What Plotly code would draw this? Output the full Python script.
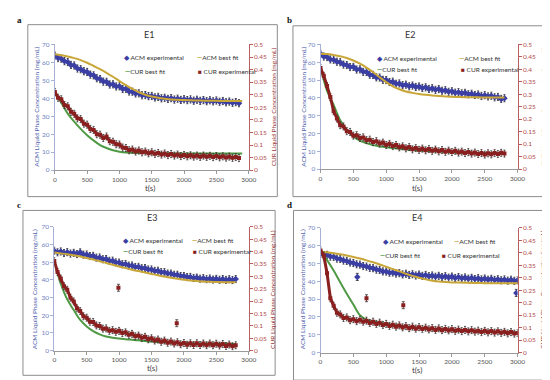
import plotly.graph_objects as go

# ---------------- data ----------------
EXP_STEP = 50   # s between experimental points
FIT_STEP = 100  # s between best-fit points

panel_titles = ["E1", "E2", "E3", "E4"]
panel_letters = ["a", "b", "c", "d"]
x_ticks = [0, 500, 1000, 1500, 2000, 2500, 3000]
acm_ticks = [0, 10, 20, 30, 40, 50, 60, 70]
cur_ticks = [0, 0.05, 0.1, 0.15, 0.2, 0.25, 0.3, 0.35, 0.4, 0.45, 0.5]
cur_tick_labels = ["0", "0.05", "0.1", "0.15", "0.2", "0.25", "0.3", "0.35", "0.4", "0.45", "0.5"]
acm_axis_title = "ACM Liquid Phase Concentration (mg/mL)"
cur_axis_title = "CUR Liquid Phase Concentration (mg/mL)"
x_axis_title = "t(s)"

# ACM (mg/mL, left axis)
e1_acm_exp = [63.8, 62.4, 62.1, 60.7, 60.2, 58.6, 58.3, 56.6, 56.2, 55.1,
              54.7, 53.2, 52.8, 51.2, 50.7, 49.3, 49.2, 47.7, 47.8, 46.6,
              46.7, 45.2, 45.3, 43.8, 43.7, 42.7, 42.8, 41.7, 41.8, 41.2,
              41.3, 40.5, 40.8, 40.0, 40.3, 39.7, 40.1, 39.3, 39.8, 39.1,
              39.5, 39.0, 39.4, 38.7, 39.2, 38.6, 39.0, 38.4, 38.9, 38.3,
              38.8, 38.1, 38.5, 37.8, 38.2, 37.5, 37.9, 37.3]
e1_acm_fit = [64.5, 64.0, 63.3, 62.4, 61.3, 59.8, 58.0, 56.2, 54.2, 52.0,
              49.6, 47.3, 45.2, 43.4, 42.0, 41.0, 40.3, 39.8, 39.4, 39.2,
              39.0, 38.9, 38.8, 38.7, 38.6, 38.6, 38.5, 38.5, 38.5, 38.5]
e2_acm_exp = [64.8, 63.2, 62.9, 61.6, 61.4, 60.3, 60.0, 58.7, 58.4, 57.3,
              57.4, 55.9, 56.0, 54.6, 54.5, 53.0, 52.9, 51.5, 51.4, 50.1,
              50.0, 48.9, 49.1, 47.9, 48.1, 47.1, 47.4, 46.5, 46.9, 46.1,
              46.4, 45.6, 45.9, 45.0, 45.4, 44.5, 44.9, 44.0, 44.3, 43.4,
              43.7, 42.9, 43.2, 42.5, 42.8, 42.0, 42.3, 41.6, 41.9, 41.1,
              41.5, 40.8, 41.2, 40.3, 40.5, 39.4, 39.8]
e2_acm_fit = [64.8, 64.6, 64.1, 63.4, 62.4, 61.0, 59.2, 57.0, 54.4, 51.6,
              48.8, 46.5, 44.8, 43.6, 42.8, 42.2, 41.7, 41.3, 41.0, 40.8,
              40.6, 40.5, 40.4, 40.3, 40.3, 40.2, 40.2, 40.2, 40.2]
e3_acm_exp = [56.5, 55.6, 56.1, 55.2, 55.7, 54.9, 55.3, 54.6, 55.6, 54.3,
              54.4, 53.5, 53.6, 52.6, 52.7, 51.7, 51.8, 50.8, 50.9, 49.9,
              49.8, 48.9, 49.0, 48.1, 48.2, 47.3, 47.4, 46.6, 46.7, 45.9,
              45.9, 45.1, 45.2, 44.4, 44.4, 43.6, 43.6, 42.9, 42.9, 42.2,
              42.2, 41.6, 41.7, 41.1, 41.3, 40.7, 41.0, 40.4, 40.8, 40.2,
              40.6, 40.1, 40.5, 40.0, 40.4, 39.9, 40.5]
e3_acm_fit = [55.5, 55.0, 54.5, 53.9, 53.2, 52.4, 51.5, 50.6, 49.6, 48.6,
              47.6, 46.7, 45.8, 45.0, 44.2, 43.4, 42.6, 41.9, 41.2, 40.6,
              40.1, 39.7, 39.4, 39.1, 38.9, 38.8, 38.7, 38.7, 38.7]
e4_acm_exp = [55.6, 54.8, 54.9, 53.9, 53.8, 52.8, 52.6, 51.7, 51.5, 50.6,
              50.3, 49.6, 49.4, 48.6, 48.3, 47.6, 47.4, 46.6, 46.4, 45.6,
              45.5, 44.9, 45.0, 44.4, 44.6, 43.9, 44.3, 43.6, 44.0, 43.3,
              43.8, 43.1, 43.6, 42.9, 43.3, 42.6, 43.1, 42.4, 42.9, 42.1,
              42.7, 41.9, 42.4, 41.7, 42.2, 41.5, 42.0, 41.3, 41.8, 41.1,
              41.6, 40.9, 41.4, 40.8, 41.2, 40.6, 41.1, 40.4, 40.9, 40.3, 40.6]
e4_acm_fit = [56.7, 56.3, 55.8, 55.2, 54.5, 53.7, 52.8, 51.8, 50.7, 49.5,
              48.2, 46.9, 45.6, 44.3, 43.1, 42.0, 41.1, 40.4, 39.9, 39.6,
              39.4, 39.3, 39.2, 39.1, 39.1, 39.0, 39.0, 39.0, 39.0, 39.0, 39.0]
e4_acm_out_t = [560, 2980]
e4_acm_out = [42.5, 33.5]

# CUR (mg/mL, right axis)
e1_cur_exp = [0.311, 0.288, 0.282, 0.259, 0.254, 0.232, 0.224, 0.206, 0.203, 0.185,
              0.181, 0.164, 0.160, 0.143, 0.141, 0.128, 0.134, 0.115, 0.113, 0.103,
              0.102, 0.090, 0.088, 0.079, 0.082, 0.074, 0.078, 0.071, 0.074, 0.067,
              0.071, 0.065, 0.068, 0.062, 0.066, 0.060, 0.064, 0.058, 0.062, 0.056,
              0.060, 0.055, 0.059, 0.054, 0.058, 0.053, 0.058, 0.053, 0.057, 0.052,
              0.056, 0.051, 0.055, 0.050, 0.054, 0.049, 0.052, 0.048]
e1_cur_fit = [0.311, 0.268, 0.225, 0.193, 0.164, 0.139, 0.118, 0.100, 0.088, 0.079,
              0.073, 0.070, 0.069, 0.068, 0.068, 0.067, 0.067, 0.067, 0.067, 0.066,
              0.066, 0.066, 0.066, 0.066, 0.066, 0.066, 0.066, 0.066, 0.066, 0.066]
e2_cur_exp = [0.405, 0.374, 0.333, 0.289, 0.232, 0.203, 0.176, 0.171, 0.152, 0.149,
              0.134, 0.136, 0.125, 0.127, 0.116, 0.118, 0.108, 0.112, 0.102, 0.106,
              0.096, 0.101, 0.092, 0.096, 0.087, 0.091, 0.083, 0.088, 0.079, 0.084,
              0.077, 0.082, 0.075, 0.080, 0.073, 0.078, 0.071, 0.076, 0.069, 0.074,
              0.068, 0.073, 0.066, 0.070, 0.064, 0.068, 0.062, 0.066, 0.060, 0.064,
              0.058, 0.063, 0.059, 0.064, 0.060, 0.065, 0.062]
e2_cur_fit = [0.407, 0.314, 0.257, 0.196, 0.157, 0.131, 0.114, 0.104, 0.096, 0.091,
              0.087, 0.084, 0.081, 0.079, 0.076, 0.074, 0.073, 0.071, 0.070, 0.069,
              0.067, 0.066, 0.066, 0.065, 0.064, 0.064, 0.063, 0.063, 0.063]
e3_cur_exp = [0.362, 0.318, 0.291, 0.260, 0.246, 0.214, 0.199, 0.171, 0.160, 0.139,
              0.133, 0.117, 0.116, 0.102, 0.100, 0.089, 0.090, 0.080, 0.083, 0.076,
              0.080, 0.071, 0.074, 0.064, 0.068, 0.058, 0.061, 0.052, 0.056, 0.046,
              0.050, 0.041, 0.045, 0.036, 0.041, 0.032, 0.037, 0.029, 0.034, 0.026,
              0.031, 0.024, 0.030, 0.023, 0.030, 0.023, 0.029, 0.022, 0.029, 0.022,
              0.028, 0.021, 0.027, 0.019, 0.025, 0.018, 0.022]
e3_cur_fit = [0.357, 0.271, 0.207, 0.164, 0.124, 0.098, 0.079, 0.066, 0.057, 0.052,
              0.049, 0.046, 0.044, 0.042, 0.039, 0.037, 0.035, 0.034, 0.033, 0.032,
              0.031, 0.030, 0.030, 0.029, 0.029, 0.028, 0.028, 0.027, 0.027]
e3_cur_out_t = [990, 1890]
e3_cur_out = [0.254, 0.111]
e4_cur_exp = [0.410, 0.389, 0.318, 0.218, 0.188, 0.160, 0.153, 0.139, 0.141, 0.130,
              0.134, 0.126, 0.132, 0.124, 0.128, 0.119, 0.124, 0.115, 0.120, 0.111,
              0.115, 0.107, 0.112, 0.104, 0.109, 0.101, 0.106, 0.098, 0.104, 0.096,
              0.102, 0.095, 0.100, 0.093, 0.098, 0.091, 0.097, 0.090, 0.095, 0.089,
              0.094, 0.087, 0.092, 0.086, 0.091, 0.085, 0.090, 0.084, 0.088, 0.082,
              0.087, 0.081, 0.086, 0.080, 0.085, 0.079, 0.083, 0.077, 0.082, 0.076, 0.078]
e4_cur_fit = [0.407, 0.371, 0.329, 0.282, 0.236, 0.193, 0.150, 0.132, 0.125, 0.120,
              0.116, 0.111, 0.108, 0.104, 0.101, 0.099, 0.096, 0.094, 0.093, 0.091,
              0.090, 0.089, 0.087, 0.086, 0.084, 0.084, 0.083, 0.082, 0.081, 0.081, 0.080]
e4_cur_out_t = [700, 1260]
e4_cur_out = [0.218, 0.190]

acm_err = 2.0
cur_err = 0.014

# ---------------- styling ----------------
FONT = "Lato, 'Liberation Sans', Arial, sans-serif"
C_ACM = "#3b3fa3"
C_ACM_FIT = "#c9a638"
C_CUR = "#8a1f1f"
C_CUR_FIT = "#4f9a44"
C_LEFT = "#6f7fbf"
C_RIGHT = "#b24a4a"

panels = [
    dict(acm=e1_acm_exp, acmfit=e1_acm_fit, cur=e1_cur_exp, curfit=e1_cur_fit,
         acm_out=([], []), cur_out=([], []),
         xd=[0.083, 0.442], yd=[0.576, 0.913],
         box=[0.033, 0.495, 0.505, 0.966], letter=(0.009, 0.979),
         title=(142, 23), lt=(27, 97), rt=(268, 97), xt=(143, 179),
         leg=[(114, 46), (188, 46), (115, 61), (189, 61)]),
    dict(acm=e2_acm_exp, acmfit=e2_acm_fit, cur=e2_cur_exp, curfit=e2_cur_fit,
         acm_out=([], []), cur_out=([], []),
         xd=[0.575, 0.940], yd=[0.579, 0.913],
         box=[0.524, 0.996, 0.505, 0.963], letter=(0.509, 0.979),
         title=(407, 23), lt=(299, 97), rt=(543, 97), xt=(415, 179),
         leg=[(372, 47), (455, 47), (372, 59), (457, 59)]),
    dict(acm=e3_acm_exp, acmfit=e3_acm_fit, cur=e3_cur_exp, curfit=e3_cur_fit,
         acm_out=([], []), cur_out=(e3_cur_out_t, e3_cur_out),
         xd=[0.082, 0.442], yd=[0.092, 0.424],
         box=[0.024, 0.491, 0.026, 0.468], letter=(0.009, 0.482),
         title=(145, 209), lt=(25, 283), rt=(268, 283), xt=(145, 363),
         leg=[(113, 233), (183, 233), (113, 244), (184, 244)]),
    dict(acm=e4_acm_exp, acmfit=e4_acm_fit, cur=e4_cur_exp, curfit=e4_cur_fit,
         acm_out=(e4_acm_out_t, e4_acm_out), cur_out=(e4_cur_out_t, e4_cur_out),
         xd=[0.575, 0.940], yd=[0.087, 0.421],
         box=[0.525, 0.996, 0.013, 0.468], letter=(0.509, 0.482),
         title=(415, 209), lt=(298, 283), rt=(543, 283), xt=(415, 365),
         leg=[(378, 234), (450, 234), (375, 248), (438, 248)]),
]

fig = go.Figure()
layout = dict(
    width=550, height=380, margin=dict(l=0, r=0, t=0, b=0),
    paper_bgcolor="white", plot_bgcolor="white", showlegend=False,
    font=dict(family=FONT, size=7, color="#444"),
)
annotations = []
shapes = []


def ann(text, px, py, size, color, angle=0, xanchor="center", family=FONT):
    return dict(text=text, x=px / 550, y=1 - py / 380, xref="paper", yref="paper",
                showarrow=False, xanchor=xanchor, yanchor="middle", textangle=angle,
                font=dict(size=size, color=color, family=family))


for k, p in enumerate(panels):
    xn = "x" if k == 0 else f"x{k+1}"
    yl = "y" if k == 0 else f"y{2*k+1}"
    yr = f"y{2*k+2}"
    t_exp_acm = [i * EXP_STEP for i in range(len(p["acm"]))]
    t_exp_cur = [i * EXP_STEP for i in range(len(p["cur"]))]
    t_fit_acm = [i * FIT_STEP for i in range(len(p["acmfit"]))]
    t_fit_cur = [i * FIT_STEP for i in range(len(p["curfit"]))]

    # ACM experimental (dense band)
    fig.add_trace(go.Scatter(
        x=t_exp_acm, y=p["acm"], mode="lines+markers", xaxis=xn, yaxis=yl,
        line=dict(color=C_ACM, width=3),
        marker=dict(symbol="diamond", size=5, color=C_ACM, line=dict(width=0)),
        error_y=dict(type="constant", value=acm_err, color="#2a2a2a", thickness=0.8, width=1)))
    if p["acm_out"][0]:
        fig.add_trace(go.Scatter(
            x=p["acm_out"][0], y=p["acm_out"][1], mode="markers", xaxis=xn, yaxis=yl,
            marker=dict(symbol="diamond", size=5, color=C_ACM),
            error_y=dict(type="constant", value=acm_err, color="#2a2a2a", thickness=0.8, width=1.5)))
    # ACM best fit
    fig.add_trace(go.Scatter(
        x=t_fit_acm, y=p["acmfit"], mode="lines", xaxis=xn, yaxis=yl,
        line=dict(color=C_ACM_FIT, width=2, shape="spline")))
    # CUR best fit
    fig.add_trace(go.Scatter(
        x=t_fit_cur, y=p["curfit"], mode="lines", xaxis=xn, yaxis=yr,
        line=dict(color=C_CUR_FIT, width=2, shape="spline")))
    # CUR experimental (dense band)
    fig.add_trace(go.Scatter(
        x=t_exp_cur, y=p["cur"], mode="lines+markers", xaxis=xn, yaxis=yr,
        line=dict(color=C_CUR, width=3),
        marker=dict(symbol="square", size=4, color=C_CUR, line=dict(width=0)),
        error_y=dict(type="constant", value=cur_err, color="#3a3030", thickness=0.8, width=1)))
    if p["cur_out"][0]:
        fig.add_trace(go.Scatter(
            x=p["cur_out"][0], y=p["cur_out"][1], mode="markers", xaxis=xn, yaxis=yr,
            marker=dict(symbol="square", size=4, color=C_CUR),
            error_y=dict(type="constant", value=cur_err, color="#3a3030", thickness=0.8, width=1.5)))

    xkey = "xaxis" if k == 0 else f"xaxis{k+1}"
    ylkey = "yaxis" if k == 0 else f"yaxis{2*k+1}"
    yrkey = f"yaxis{2*k+2}"
    layout[xkey] = dict(
        domain=p["xd"], anchor=yl, range=[0, 3000], tickvals=x_ticks,
        showline=True, linecolor="#9a9a9a", linewidth=1, ticks="outside", ticklen=3,
        tickcolor="#9a9a9a", showgrid=False, zeroline=False,
        tickfont=dict(size=6.5, color="#555"))
    layout[ylkey] = dict(
        domain=p["yd"], anchor=xn, range=[0, 70], tickvals=acm_ticks,
        showline=True, linecolor="#a8b0d8", linewidth=1, ticks="outside", ticklen=3,
        tickcolor="#a8b0d8", showgrid=False, zeroline=False,
        tickfont=dict(size=6.5, color=C_LEFT))
    layout[yrkey] = dict(
        overlaying=yl, side="right", anchor=xn, range=[0, 0.5], tickvals=cur_ticks,
        ticktext=cur_tick_labels,
        showline=True, linecolor="#b86060", linewidth=1, ticks="outside", ticklen=3,
        tickcolor="#b86060", showgrid=False, zeroline=False,
        tickfont=dict(size=6.5, color=C_RIGHT))

    # panel frame
    b = p["box"]
    shapes.append(dict(type="rect", xref="paper", yref="paper", x0=b[0], x1=b[1], y0=b[2], y1=b[3],
                       line=dict(color="#8c8c8c", width=1), fillcolor="rgba(0,0,0,0)", layer="below"))
    # panel letter, title, axis titles
    annotations.append(dict(text=f"<b>{panel_letters[k]}</b>", x=p["letter"][0], y=p["letter"][1],
                            xref="paper", yref="paper", showarrow=False, xanchor="left",
                            yanchor="middle", font=dict(size=9, color="#111", family="Liberation Serif, serif")))
    annotations.append(ann(panel_titles[k], p["title"][0], p["title"][1], 9, "#333"))
    annotations.append(ann(acm_axis_title, p["lt"][0], p["lt"][1], 6.5, "#5565b0", angle=-90))
    annotations.append(ann(cur_axis_title, p["rt"][0], p["rt"][1], 6.5, "#9a3a3a", angle=-90))
    annotations.append(ann(x_axis_title, p["xt"][0], p["xt"][1], 8, "#444"))
    # legend (Excel-style, two columns)
    items = [
        f"<span style='color:{C_ACM}'>◆</span> ACM experimental",
        f"<span style='color:{C_ACM_FIT}'><b>—</b></span>ACM best fit",
        f"<span style='color:{C_CUR_FIT}'><b>—</b></span>CUR best fit",
        f"<span style='color:{C_CUR}'>■</span> CUR experimental",
    ]
    for (px, py), txt in zip(p["leg"], items):
        annotations.append(ann(txt, px, py, 6.5, "#333", xanchor="left"))

layout["annotations"] = annotations
layout["shapes"] = shapes
fig.update_layout(**layout)
fig.write_html("out.html")
